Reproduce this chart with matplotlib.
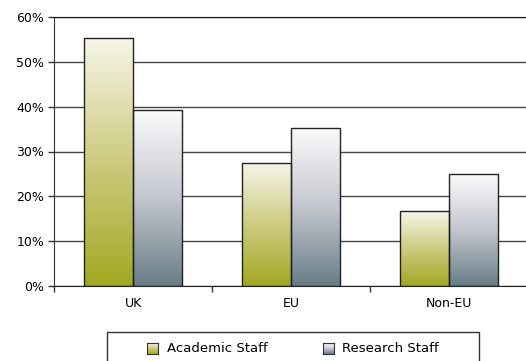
import numpy as np
import matplotlib.pyplot as plt
from matplotlib.colors import LinearSegmentedColormap
from matplotlib.patches import Rectangle

regions = ['UK', 'EU', 'Non-EU']
academic = [55.4, 27.5, 16.7]
research = [39.3, 35.3, 25.0]
series_names = ['Academic Staff', 'Research Staff']

olive = LinearSegmentedColormap.from_list('olive', ['#a3a823', '#cdcb80', '#f6f6ea'])
slate = LinearSegmentedColormap.from_list('slate', ['#687d87', '#c4c7ce', '#fbfbfd'])

W, H = 526, 361
fig = plt.figure(figsize=(W / 100, H / 100), dpi=100)
ax = fig.add_axes([54 / W, 75 / H, 474 / W, 269 / H])

width = 0.31
x = np.arange(len(regions))
grad = np.linspace(0, 1, 256).reshape(-1, 1)

for vals, cmap, off in [(academic, olive, -width / 2), (research, slate, width / 2)]:
    bars = ax.bar(x + off, vals, width, facecolor='none', edgecolor='#222222',
                  linewidth=1.0, zorder=3)
    for b in bars:
        x0, y0 = b.get_x(), b.get_y()
        w, h = b.get_width(), b.get_height()
        img = ax.imshow(grad, cmap=cmap, origin='lower', aspect='auto',
                        extent=[x0, x0 + w, y0, y0 + h], zorder=2)
        img.set_clip_path(b)

ax.set_xlim(-0.5, 2.5)
ax.set_ylim(0, 60)
ax.set_yticks(range(0, 61, 10))
ax.set_yticklabels([f'{v}%' for v in range(0, 61, 10)], fontsize=9)
ax.set_xticks(x)
ax.set_xticklabels(regions, fontsize=9)
ax.set_xticks([-0.5, 0.5, 1.5, 2.5], minor=True)
ax.tick_params(axis='x', which='major', length=0, pad=8)
ax.tick_params(axis='x', which='minor', length=4, width=1, color='#333333')
ax.tick_params(axis='y', length=4, width=1, color='#333333', pad=3)
ax.yaxis.grid(True, color='#444444', linewidth=1.0)
ax.set_axisbelow(True)
ax.spines['right'].set_visible(False)
ax.spines['top'].set_color('#111111')
ax.spines['left'].set_color('#333333')
ax.spines['bottom'].set_color('#222222')

# legend box drawn by hand so the swatches can carry the same gradients
fig.patches.append(Rectangle((107 / W, -0.05), 372 / W, 0.05 + 29 / H,
                             transform=fig.transFigure, facecolor='white',
                             edgecolor='#333333', linewidth=1.0, zorder=-1))
for name, cmap, hx, tx in [(series_names[0], olive, 147, 167),
                           (series_names[1], slate, 323, 342)]:
    sw = fig.add_axes([hx / W, (H - 354) / H, 11 / W, 11 / H])
    sw.set_zorder(5)
    sw.imshow(grad, cmap=cmap, origin='lower', aspect='auto', extent=[0, 1, 0, 1])
    sw.set_xticks([])
    sw.set_yticks([])
    for s in sw.spines.values():
        s.set_color('#333333')
    fig.text(tx / W, (H - 348) / H, name, fontsize=9.5, va='center', ha='left')

fig.savefig('out.png', dpi=100)
